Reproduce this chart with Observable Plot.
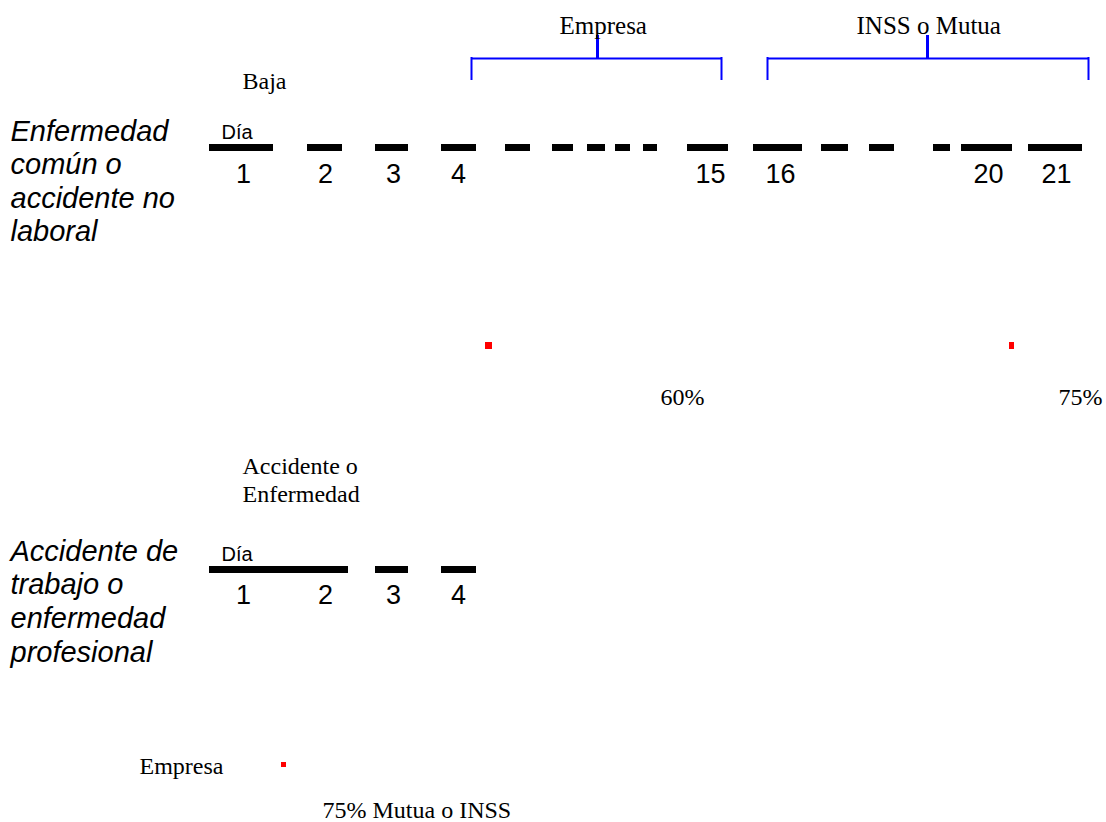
<!DOCTYPE html>
<html>
<head>
<meta charset="utf-8">
<script src="https://cdn.jsdelivr.net/npm/d3@7"></script>
<script src="https://cdn.jsdelivr.net/npm/@observablehq/plot@0.6"></script>
<style>
  html, body { margin: 0; padding: 0; background: #ffffff; }
  #chart svg { display: block; background: #ffffff; }
</style>
</head>
<body>
<div id="chart"></div>
<script>
// ---- Data (diagram units = canvas units) ----
// Row 1: Enfermedad común o accidente no laboral
const row1Segments = [[209,273],[307,342],[375,408],[441,476],[505,530],[552,573],[587,605],[615,630],[643,657],[687,728],[753,802],[821,848],[869,894],[933,950],[961,1012],[1028,1082]];
const row1Days = ["1","2","3","4","15","16","20","21"];
const row1DayX = [243,325,393,458,710,780,988,1056];
// Row 2: Accidente de trabajo o enfermedad profesional
const row2Segments = [[209,348],[375,408],[441,476]];
const row2Days = ["1","2","3","4"];
const row2DayX = [243,325,393,458];

const row1Label = ["Enfermedad","común o","accidente no","laboral"];
const row2Label = ["Accidente de","trabajo o","enfermedad","profesional"];

// Brackets: [left, stem, right, title]
const brackets = [
  {left: 471, stem: 597, right: 721, title: "Empresa", titleX: 559},
  {left: 767, stem: 927, right: 1088, title: "INSS o Mutua", titleX: 856}
];

// Red markers [x1, x2, y1, y2]
const markers = [[485,492,342,349],[1009,1014,342,349],[281,286,762,767]];

// Serif notes
const notes = [
  {text: "Baja", x: 242, y: 88},
  {text: "60%", x: 660, y: 404},
  {text: "75%", x: 1058, y: 404},
  {text: "Accidente o", x: 242, y: 473},
  {text: "Enfermedad", x: 242, y: 501},
  {text: "Empresa", x: 139, y: 773},
  {text: "75% Mutua o INSS", x: 322, y: 817}
];

// ---- Build tables ----
const seg = (arr, y1, y2) => arr.map(([a, b]) => ({x1: a, x2: b, y1, y2}));
const segs = [...seg(row1Segments, 144, 151), ...seg(row2Segments, 566, 573)];
const dayLabels = [
  ...row1Days.map((t, i) => ({text: t, x: row1DayX[i], y: 182})),
  ...row2Days.map((t, i) => ({text: t, x: row2DayX[i], y: 603}))
];
const diaLabels = [{text: "Día", x: 221, y: 138}, {text: "Día", x: 221, y: 560}];
const sideLabels = [
  ...row1Label.map((t, i) => ({text: t, x: 10, y: 140 + i * 33.5})),
  ...row2Label.map((t, i) => ({text: t, x: 10, y: 560 + i * 33.7}))
];
const bracketH = brackets.map(b => ({x1: b.left, x2: b.right, y: 58}));
const bracketV = brackets.flatMap(b => [{x: b.left, y1: 57, y2: 80}, {x: b.right, y1: 57, y2: 80}]);
const bracketStem = brackets.map(b => ({x: b.stem, y1: 35, y2: 58}));
const bracketTitles = brackets.map(b => ({text: b.title, x: b.titleX, y: 33}));
const markerRects = markers.map(([x1, x2, y1, y2]) => ({x1, x2, y1, y2}));

const serif = "Liberation Serif, Times New Roman, serif";
const sans = "Liberation Sans, Arial, sans-serif";

const chart = Plot.plot({
  width: 1106,
  height: 822,
  margin: 0,
  x: {type: "linear", domain: [0, 1106], range: [0, 1106], axis: null},
  y: {type: "linear", domain: [0, 822], range: [0, 822], axis: null},
  marks: [
    Plot.rect(segs, {x1: "x1", x2: "x2", y1: "y1", y2: "y2", fill: "#000"}),
    Plot.text(dayLabels, {x: "x", y: "y", text: "text", textAnchor: "middle", lineAnchor: "bottom", fontFamily: sans, fontSize: 27, fill: "#000"}),
    Plot.text(diaLabels, {x: "x", y: "y", text: "text", textAnchor: "start", lineAnchor: "bottom", fontFamily: sans, fontSize: 20, fill: "#000"}),
    Plot.text(sideLabels, {x: "x", y: "y", text: "text", textAnchor: "start", lineAnchor: "bottom", fontFamily: sans, fontSize: 29, fontStyle: "italic", fill: "#000"}),
    Plot.ruleY(bracketH, {x1: "x1", x2: "x2", y: "y", stroke: "#0000ff", strokeWidth: 2}),
    Plot.ruleX(bracketV, {x: "x", y1: "y1", y2: "y2", stroke: "#0000ff", strokeWidth: 2}),
    Plot.ruleX(bracketStem, {x: "x", y1: "y1", y2: "y2", stroke: "#0000ff", strokeWidth: 3}),
    Plot.text(bracketTitles, {x: "x", y: "y", text: "text", textAnchor: "start", lineAnchor: "bottom", fontFamily: serif, fontSize: 25, fill: "#000"}),
    Plot.text(notes, {x: "x", y: "y", text: "text", textAnchor: "start", lineAnchor: "bottom", fontFamily: serif, fontSize: 24, fill: "#000"}),
    Plot.rect(markerRects, {x1: "x1", x2: "x2", y1: "y1", y2: "y2", fill: "#ff0000"})
  ]
});
document.getElementById("chart").appendChild(chart);
</script>
</body>
</html>
